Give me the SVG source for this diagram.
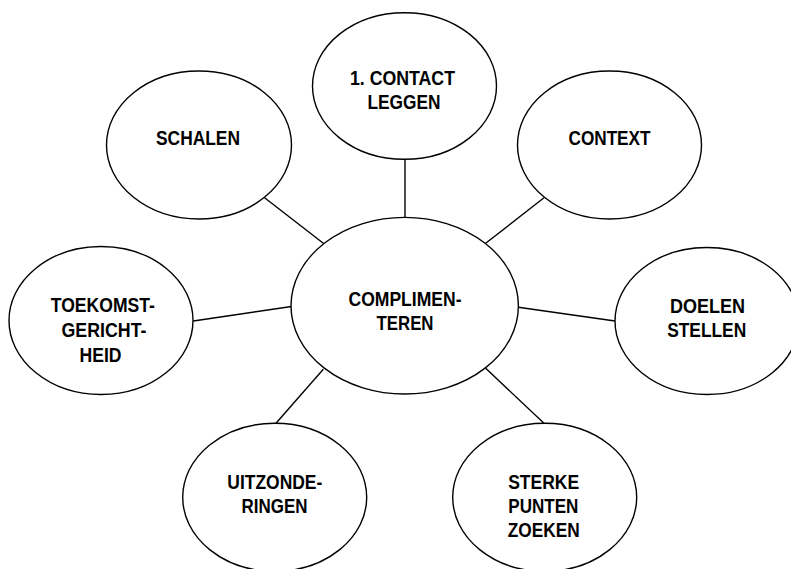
<svg xmlns="http://www.w3.org/2000/svg" width="791" height="569" viewBox="0 0 791 569">
<style>
ellipse{fill:#fff;stroke:#000;stroke-width:1.4}
line{stroke:#000;stroke-width:1.4}
text{font-family:"Liberation Sans","Arial",sans-serif;font-weight:bold;font-size:21px;text-anchor:middle;fill:#000}
</style>
<rect width="791" height="569" fill="#fff"/>
<g id="connectors">
<line x1="405" y1="159" x2="405" y2="217.5"/>
<line x1="263.3" y1="196.7" x2="323.3" y2="243.3"/>
<line x1="544" y1="197.7" x2="485.7" y2="243.3"/>
<line x1="193.3" y1="321" x2="291.5" y2="306.5"/>
<line x1="518.3" y1="307.3" x2="615" y2="321"/>
<line x1="323.3" y1="369.3" x2="276" y2="423.3"/>
<line x1="485.7" y1="368.3" x2="544" y2="423.3"/>
</g>
<g id="center">
<ellipse cx="404.7" cy="305.7" rx="113.7" ry="88.3"/>
<text x="405" y="306" textLength="113" lengthAdjust="spacingAndGlyphs">COMPLIMEN-</text>
<text x="405" y="330" textLength="57" lengthAdjust="spacingAndGlyphs">TEREN</text>
</g>
<g id="contact">
<ellipse cx="404.5" cy="86" rx="92" ry="73.3"/>
<text x="402.5" y="85" textLength="105" lengthAdjust="spacingAndGlyphs">1. CONTACT</text>
<text x="404" y="109" textLength="73" lengthAdjust="spacingAndGlyphs">LEGGEN</text>
</g>
<g id="schalen">
<ellipse cx="199" cy="145" rx="92.5" ry="74"/>
<text x="198" y="145" textLength="84" lengthAdjust="spacingAndGlyphs">SCHALEN</text>
</g>
<g id="context">
<ellipse cx="609.5" cy="145" rx="92" ry="74"/>
<text x="609.5" y="145" textLength="82" lengthAdjust="spacingAndGlyphs">CONTEXT</text>
</g>
<g id="toekomst">
<ellipse cx="101" cy="320.5" rx="92" ry="74"/>
<text x="102.8" y="312.3" textLength="104" lengthAdjust="spacingAndGlyphs">TOEKOMST-</text>
<text x="104" y="337" textLength="85" lengthAdjust="spacingAndGlyphs">GERICHT-</text>
<text x="100.5" y="361.7" textLength="42" lengthAdjust="spacingAndGlyphs">HEID</text>
</g>
<g id="doelen">
<ellipse cx="707" cy="321" rx="92" ry="73.5"/>
<text x="707.5" y="313.3" textLength="75" lengthAdjust="spacingAndGlyphs">DOELEN</text>
<text x="706.7" y="337.3" textLength="79" lengthAdjust="spacingAndGlyphs">STELLEN</text>
</g>
<g id="uitzonderingen">
<ellipse cx="274.7" cy="497.3" rx="92" ry="74"/>
<text x="274.8" y="489.3" textLength="95" lengthAdjust="spacingAndGlyphs">UITZONDE-</text>
<text x="274.5" y="513.3" textLength="66" lengthAdjust="spacingAndGlyphs">RINGEN</text>
</g>
<g id="sterke">
<ellipse cx="544.7" cy="497.3" rx="92" ry="74"/>
<text x="543.7" y="489.3" textLength="71" lengthAdjust="spacingAndGlyphs">STERKE</text>
<text x="543.3" y="513.3" textLength="70" lengthAdjust="spacingAndGlyphs">PUNTEN</text>
<text x="543.8" y="537.3" textLength="72" lengthAdjust="spacingAndGlyphs">ZOEKEN</text>
</g>
</svg>
